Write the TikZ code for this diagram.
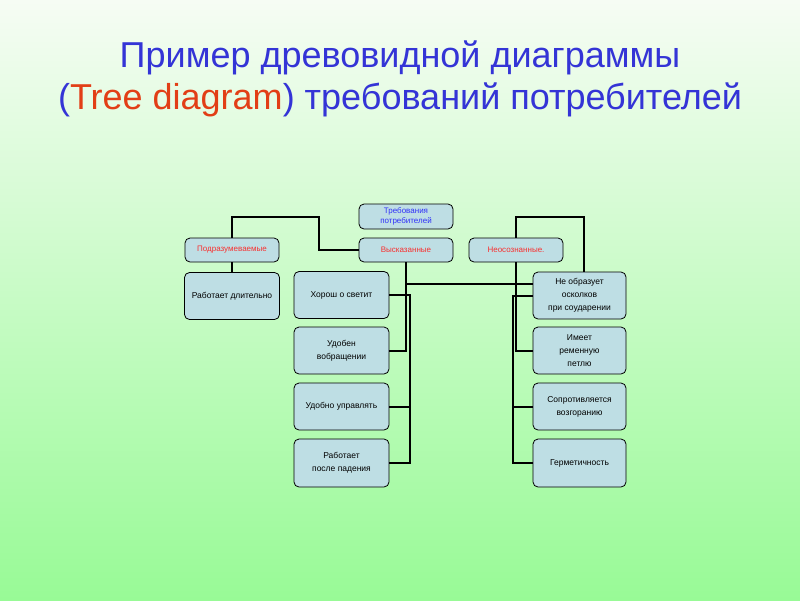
\documentclass[tikz,border=0pt]{standalone}
\usepackage{fontspec}
\setmainfont{Liberation Sans}
\usetikzlibrary{calc}

\definecolor{titleblue}{RGB}{52,52,214}
\definecolor{titlered}{RGB}{226,62,22}
\definecolor{boxfill}{RGB}{190,222,228}
\definecolor{lblred}{RGB}{248,48,48}
\definecolor{lblblue}{RGB}{48,48,248}
\definecolor{bgtop}{RGB}{246,252,244}
\definecolor{bgbot}{RGB}{152,250,150}

\tikzset{
	box/.style={draw=black, line width=0.8pt, fill=boxfill, rounded corners=5pt, align=center, inner sep=1pt, font=\fontsize{8.5}{13}\selectfont},
	head/.style={box, minimum width=94pt, minimum height=24pt, font=\fontsize{8}{10}\selectfont},
	leaf/.style={box, minimum width=95pt, minimum height=47pt},
	link/.style={line width=2pt},
	title/.style={text=titleblue, font=\fontsize{36}{40}\selectfont}
}

\begin{document}
\begin{tikzpicture}[x=1pt, y=-1pt]

	% background
	\useasboundingbox (0,0) rectangle (800,600);
	\shade [top color=bgtop, bottom color=bgbot] (0,0) rectangle (800,600);

	% title
	\node [title] (title1) at (400,58) {Пример древовидной диаграммы};
	\node [title] (title2) at (400,100) {(\textcolor{titlered}{Tree diagram}) требований потребителей};

	% headers
	\node [head, text=lblblue, minimum height=25pt] (req) at (406,216.5) {Требования\\потребителей};
	\node [head, text=lblred] (said) at (406,250) {Высказанные};
	\node [head, text=lblred] (implied) at (232,250) {Подразумеваемые};
	\node [head, text=lblred] (unaware) at (516,250) {Неосознанные.};

	% leaves
	\node [leaf] (long) at (232,296) {Работает длительно};
	\node [leaf] (bright) at (341.5,295) {Хорош о светит};
	\node [leaf] (handy) at (341.5,350.5) {Удобен\\вобращении};
	\node [leaf] (steer) at (341.5,406.5) {Удобно управлять};
	\node [leaf, minimum height=48pt] (drop) at (341.5,463) {Работает\\после падения};
	\node [leaf, minimum width=93pt] (shard) at (579.5,295.5) {Не образует\\осколков\\при соударении};
	\node [leaf, minimum width=93pt] (loop) at (579.5,350.5) {Имеет\\ременную\\петлю};
	\node [leaf, minimum width=93pt] (fire) at (579.5,406.5) {Сопротивляется\\возгоранию};
	\node [leaf, minimum width=93pt, minimum height=48pt] (seal) at (579.5,463) {Герметичность};

	% junctions
	\coordinate (kl) at (319,217);
	\coordinate (kr) at (584,217);
	\coordinate (jl) at (406,284);
	\coordinate (lbus) at (410,0);
	\coordinate (rbus) at (513,0);

	% links
	\draw [link] (implied.north) |- (kl) |- (said.west);
	\draw [link] (implied.south) -- (long.north);
	\draw [link] (unaware.north) |- (kr) -- (kr |- shard.north);
	\draw [link] (said.south) -- (said.south |- handy.east) -- (handy.east);
	\draw [link] (jl) -- (jl -| shard.west);
	\draw [link] (unaware.south) -- (unaware.south |- loop.west) -- (loop.west);
	\draw [link] (bright.east) -- (bright.east -| lbus) -- (drop.east -| lbus) -- (drop.east);
	\draw [link] (steer.east) -- (steer.east -| lbus);
	\draw [link] (shard.west) -- (shard.west -| rbus) -- (seal.west -| rbus) -- (seal.west);
	\draw [link] (fire.west) -- (fire.west -| rbus);

\end{tikzpicture}
\end{document}
